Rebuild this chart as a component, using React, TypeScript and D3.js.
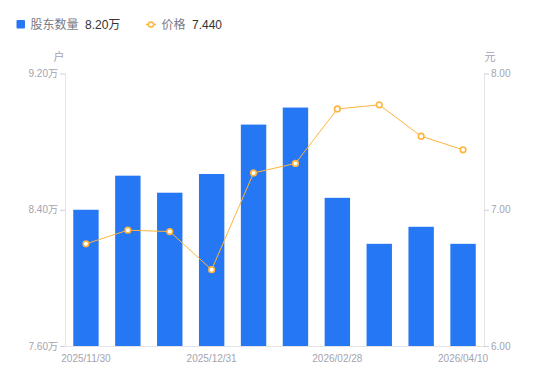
import React from "react";
import * as d3 from "d3";

const categories = [
  "2025/11/30", "2025/12/10", "2025/12/19", "2025/12/31", "2026/01/09",
  "2026/01/20", "2026/02/28", "2026/03/10", "2026/03/20", "2026/04/10",
];
const holders = [8.40, 8.60, 8.50, 8.61, 8.90, 9.00, 8.47, 8.20, 8.30, 8.20];
const prices = [6.75, 6.85, 6.84, 6.56, 7.27, 7.34, 7.74, 7.77, 7.54, 7.44];
const leftTicks = [7.6, 8.4, 9.2];
const rightTicks = [6, 7, 8];
const shownLabels = ["2025/11/30", "2025/12/31", "2026/02/28", "2026/04/10"];

const W = 550, H = 381;
const M = { left: 65, right: 484, top: 73.5, bottom: 346 };
const FONT = "'Liberation Sans', Arial, 'Noto Sans CJK SC', sans-serif";
const BLUE = "#2677F4";
const ORANGE = "#FFB43C";
const AXIS = "#E3E3E8";
const LABEL = "#A3A3B0";

export default function App() {
  const band = d3.scaleBand<string>().domain(categories).range([M.left, M.right]);
  const yL = d3.scaleLinear().domain([7.6, 9.2]).range([M.bottom, M.top]);
  const yR = d3.scaleLinear().domain([6, 8]).range([M.bottom, M.top]);
  const cx = (c: string) => (band(c) as number) + band.bandwidth() / 2;
  const bw = 25.4;
  const line = d3.line<number>().x((_, i) => cx(categories[i])).y((d) => yR(d));

  return (
    <svg width={W} height={H} style={{ position: "absolute", left: 0, top: 0, fontFamily: FONT }}>
      {/* legend */}
      <rect x={16.5} y={20} width={8.5} height={8.5} rx={1} fill={BLUE} />
      <text x={30.5} y={29} fontSize={12} fill="#7A7A85">股东数量</text>
      <text x={85} y={29} fontSize={12} fill="#333">8.20万</text>
      <line x1={146} x2={156} y1={24.5} y2={24.5} stroke={ORANGE} strokeWidth={1.5} />
      <circle cx={151} cy={24.5} r={2.6} fill="#fff" stroke={ORANGE} strokeWidth={1.5} />
      <text x={161.5} y={29} fontSize={12} fill="#7A7A85">价格</text>
      <text x={192} y={29} fontSize={12} fill="#333">7.440</text>

      {/* unit labels */}
      <text x={59} y={61} fontSize={11} fill={LABEL} textAnchor="middle">户</text>
      <text x={490} y={61} fontSize={11} fill={LABEL} textAnchor="middle">元</text>

      {/* axes */}
      <line x1={M.left + 0.5} x2={M.left + 0.5} y1={M.top} y2={M.bottom} stroke={AXIS} />
      <line x1={M.right + 0.5} x2={M.right + 0.5} y1={M.top} y2={M.bottom} stroke={AXIS} />
      <line x1={M.left} x2={M.right} y1={M.bottom + 0.5} y2={M.bottom + 0.5} stroke={AXIS} />
      {leftTicks.map((t) => (
        <g key={"l" + t}>
          <line x1={M.left - 5} x2={M.left} y1={yL(t) + 0.5} y2={yL(t) + 0.5} stroke="#CFCFD6" />
          <text x={M.left - 7} y={yL(t) + 3.5} fontSize={10} fill={LABEL} textAnchor="end">
            {t.toFixed(2)}万
          </text>
        </g>
      ))}
      {rightTicks.map((t) => (
        <g key={"r" + t}>
          <line x1={M.right} x2={M.right + 5} y1={yR(t) + 0.5} y2={yR(t) + 0.5} stroke="#CFCFD6" />
          <text x={M.right + 7} y={yR(t) + 3.5} fontSize={10} fill={LABEL} textAnchor="start">
            {t.toFixed(2)}
          </text>
        </g>
      ))}
      {categories.map((c) =>
        shownLabels.includes(c) ? (
          <text key={"x" + c} x={cx(c)} y={361.5} fontSize={10} fill={LABEL} textAnchor="middle">
            {c}
          </text>
        ) : null
      )}

      {/* bars */}
      {holders.map((v, i) => (
        <rect key={"b" + i} x={cx(categories[i]) - bw / 2} y={yL(v)} width={bw} height={M.bottom - yL(v)} fill={BLUE} />
      ))}

      {/* price line */}
      <path d={line(prices) || ""} fill="none" stroke={ORANGE} strokeWidth={1} />
      {prices.map((v, i) => (
        <circle key={"p" + i} cx={cx(categories[i])} cy={yR(v)} r={2.8} fill="#fff" stroke={ORANGE} strokeWidth={1.6} />
      ))}
    </svg>
  );
}
